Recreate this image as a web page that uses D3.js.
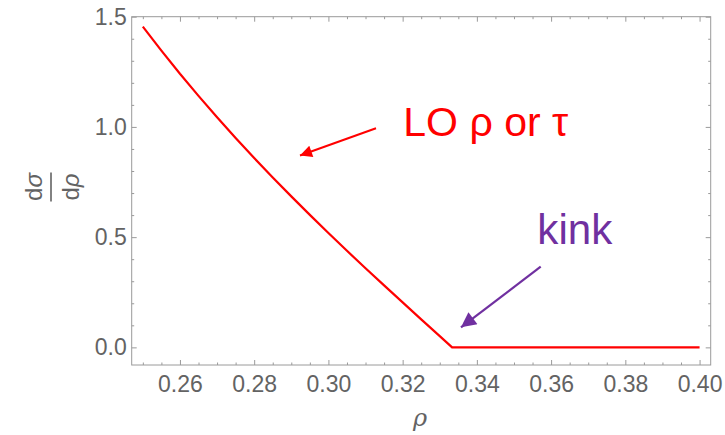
<!DOCTYPE html>
<html>
<head>
<meta charset="utf-8">
<script src="https://cdn.jsdelivr.net/npm/d3@7"></script>
<style>
  html, body { margin: 0; padding: 0; background: #ffffff; }
  svg { display: block; }
</style>
</head>
<body>
<svg id="chart" width="725" height="435"></svg>
<script>
// LO distribution dσ/dρ sampled across ρ; flat beyond the three-parton endpoint ρ = 1/3
const rho = [0.25, 0.255, 0.26, 0.265, 0.27, 0.275, 0.28, 0.285, 0.29, 0.295,
             0.30, 0.305, 0.31, 0.315, 0.32, 0.325, 0.33, 0.33333, 0.40];
const dsigma = [1.455, 1.346, 1.241, 1.141, 1.044, 0.950, 0.859, 0.771, 0.685, 0.601,
                0.519, 0.438, 0.359, 0.281, 0.204, 0.127, 0.051, 0.0, 0.0];

const xMajor = [0.26, 0.28, 0.30, 0.32, 0.34, 0.36, 0.38, 0.40];
const yMajor = [0.0, 0.5, 1.0, 1.5];

const annoLO = "LO ρ or τ";
const annoKink = "kink";

const plotL = 131.7, plotR = 710.7, plotT = 16.7, plotB = 365;

const x = d3.scaleLinear().domain([0.247, 0.403]).range([plotL, plotR]);
const y = d3.scaleLinear().domain([-0.08, 1.5]).range([plotB, plotT]);

const frameColor = "#9a9a9a";
const labelColor = "#636363";
const font = "'Liberation Sans', Arial, sans-serif";

const svg = d3.select("#chart");

// minor tick positions
const xMinor = d3.range(0, 31).map(i => +(0.25 + i * 0.005).toFixed(3))
  .filter(v => !xMajor.some(m => Math.abs(m - v) < 1e-9));
const yMinor = d3.range(0, 16).map(i => +(i * 0.1).toFixed(2))
  .filter(v => !yMajor.some(m => Math.abs(m - v) < 1e-9));

function styleAxis(g) {
  g.select(".domain").remove();
  g.selectAll(".tick line").attr("stroke", frameColor).attr("stroke-width", 1);
  g.selectAll(".tick text").attr("fill", labelColor)
    .style("font-family", font).style("font-size", "23px");
}

// bottom axis with labels
svg.append("g").attr("transform", `translate(0,${plotB})`)
  .call(d3.axisBottom(x).tickValues(xMajor).tickSize(-5).tickPadding(10.5).tickFormat(d3.format(".2f")))
  .call(styleAxis);
svg.append("g").attr("transform", `translate(0,${plotB})`)
  .call(d3.axisBottom(x).tickValues(xMinor).tickSize(-2.5).tickFormat(""))
  .call(styleAxis);
// top mirror ticks
svg.append("g").attr("transform", `translate(0,${plotT})`)
  .call(d3.axisTop(x).tickValues(xMajor).tickSize(-5).tickFormat(""))
  .call(styleAxis);
svg.append("g").attr("transform", `translate(0,${plotT})`)
  .call(d3.axisTop(x).tickValues(xMinor).tickSize(-2.5).tickFormat(""))
  .call(styleAxis);

// left axis with labels
svg.append("g").attr("transform", `translate(${plotL},0)`)
  .call(d3.axisLeft(y).tickValues(yMajor).tickSize(-5).tickPadding(5).tickFormat(d3.format(".1f")))
  .call(styleAxis);
svg.append("g").attr("transform", `translate(${plotL},0)`)
  .call(d3.axisLeft(y).tickValues(yMinor).tickSize(-2.5).tickFormat(""))
  .call(styleAxis);
// right mirror ticks
svg.append("g").attr("transform", `translate(${plotR},0)`)
  .call(d3.axisRight(y).tickValues(yMajor).tickSize(-5).tickFormat(""))
  .call(styleAxis);
svg.append("g").attr("transform", `translate(${plotR},0)`)
  .call(d3.axisRight(y).tickValues(yMinor).tickSize(-2.5).tickFormat(""))
  .call(styleAxis);

// frame
svg.append("rect")
  .attr("x", plotL).attr("y", plotT)
  .attr("width", plotR - plotL).attr("height", plotB - plotT)
  .attr("fill", "none").attr("stroke", frameColor).attr("stroke-width", 1);

// curve
const pts = rho.map((r, i) => [r, dsigma[i]]);
svg.append("path")
  .datum(pts)
  .attr("fill", "none")
  .attr("stroke", "#ff0000")
  .attr("stroke-width", 2.2)
  .attr("stroke-linejoin", "round")
  .attr("d", d3.line().x(d => x(d[0])).y(d => y(d[1])));

// x-axis label
svg.append("text")
  .attr("x", 420).attr("y", 426)
  .attr("text-anchor", "middle")
  .attr("fill", labelColor)
  .style("font-family", "'DejaVu Serif', 'Liberation Serif', serif")
  .style("font-style", "italic")
  .style("font-size", "24px")
  .text("ρ");

// y-axis label: fraction dσ / dρ, rotated
const yl = svg.append("g").attr("transform", "translate(51,187) rotate(-90)");
yl.append("line")
  .attr("x1", -14.5).attr("x2", 14.5).attr("y1", 0).attr("y2", 0)
  .attr("stroke", labelColor).attr("stroke-width", 1.6);
const num = yl.append("text").attr("x", 0).attr("y", -9).attr("text-anchor", "middle")
  .attr("fill", labelColor).style("font-family", font).style("font-size", "24px");
num.append("tspan").text("d");
num.append("tspan").style("font-style", "italic").text("σ");
const den = yl.append("text").attr("x", 0).attr("y", 28).attr("text-anchor", "middle")
  .attr("fill", labelColor).style("font-family", font).style("font-size", "24px");
den.append("tspan").text("d");
den.append("tspan").style("font-style", "italic").text("ρ");

// annotation arrows
const defs = svg.append("defs");
function marker(id, color, w, h) {
  defs.append("marker")
    .attr("id", id)
    .attr("viewBox", "0 0 10 10")
    .attr("refX", 10).attr("refY", 5)
    .attr("markerUnits", "userSpaceOnUse")
    .attr("markerWidth", w).attr("markerHeight", h)
    .attr("orient", "auto")
    .append("path").attr("d", "M0,0 L10,5 L0,10 Z").attr("fill", color);
}
marker("headRed", "#ff0000", 16, 12);
marker("headPurple", "#7030a0", 19, 15);

svg.append("line")
  .attr("x1", 376).attr("y1", 128.3).attr("x2", 300).attr("y2", 155.5)
  .attr("stroke", "#ff0000").attr("stroke-width", 2)
  .attr("marker-end", "url(#headRed)");

svg.append("line")
  .attr("x1", 540.7).attr("y1", 266.7).attr("x2", 461).attr("y2", 327.3)
  .attr("stroke", "#7030a0").attr("stroke-width", 2.2)
  .attr("marker-end", "url(#headPurple)");

// annotation texts
svg.append("text")
  .attr("x", 403.3).attr("y", 136)
  .attr("fill", "#ff0000")
  .attr("textLength", 165).attr("lengthAdjust", "spacingAndGlyphs")
  .style("font-family", font).style("font-size", "41px")
  .text(annoLO);

svg.append("text")
  .attr("x", 537.3).attr("y", 243.5)
  .attr("fill", "#7030a0")
  .attr("textLength", 75).attr("lengthAdjust", "spacingAndGlyphs")
  .style("font-family", font).style("font-size", "42px")
  .text(annoKink);
</script>
</body>
</html>
